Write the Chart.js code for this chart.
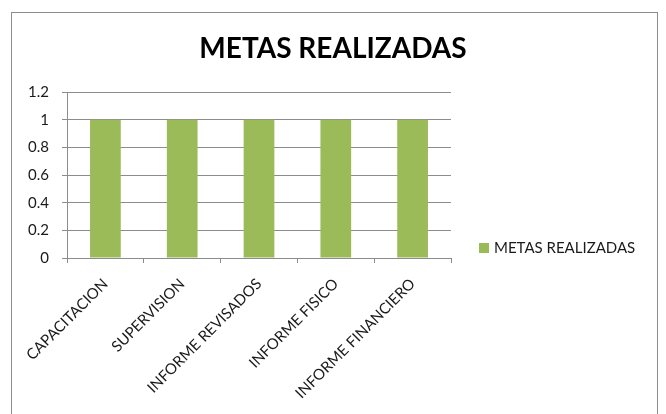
<!DOCTYPE html>
<html>
<head>
<meta charset="utf-8">
<script src="https://cdn.jsdelivr.net/npm/chart.js@4"></script>
<style>
  html, body { margin: 0; padding: 0; background: #fff; overflow: hidden; }
  #cadre { position: absolute; left: 11px; top: 12px; width: 645px; height: 430px; border: 1px solid #8c8c8c; }
  #zone { position: absolute; left: 0; top: 0; width: 666px; height: 414px; }
</style>
</head>
<body>
<div id="cadre"></div>
<div id="zone"><canvas id="chart1"></canvas></div>
<script>
// Données
const categories = ['CAPACITACION', 'SUPERVISION', 'INFORME REVISADOS', 'INFORME FISICO', 'INFORME FINANCIERO'];
const valeurs = [1, 1, 1, 1, 1];
const titre = 'METAS REALIZADAS';
const nomSerie = 'METAS REALIZADAS';

const police = 'Lato, "Open Sans", sans-serif';
const gris = '#8c8c8c';

// Légende dessinée à la main (à droite, comme dans Excel)
const legendePerso = {
  id: 'legendePerso',
  afterDraw(chart) {
    const ctx = chart.ctx;
    const ds = chart.data.datasets[0];
    ctx.save();
    ctx.fillStyle = ds.backgroundColor;
    ctx.fillRect(479, 243, 10, 10);
    ctx.fillStyle = '#1a1a1a';
    ctx.font = '15px ' + police;
    ctx.textBaseline = 'middle';
    ctx.fillText(ds.label, 494, 248);
    ctx.restore();
  }
};

new Chart(document.getElementById('chart1'), {
  type: 'bar',
  data: {
    labels: categories,
    datasets: [{
      label: nomSerie,
      data: valeurs,
      backgroundColor: '#9bbb59',
      categoryPercentage: 1,
      barPercentage: 0.4
    }]
  },
  options: {
    responsive: true,
    maintainAspectRatio: false,
    animation: false,
    layout: { padding: { top: 16, right: 0, left: 0, bottom: 0 } },
    plugins: {
      legend: { display: false },
      tooltip: { enabled: false },
      title: {
        display: true,
        text: titre,
        color: '#000',
        font: { family: police, size: 28, weight: 'bold', lineHeight: 1.2 },
        padding: { top: 16, bottom: 26.4 }
      }
    },
    scales: {
      x: {
        afterFit: s => { s.height = 156; },
        grid: { offset: true, drawOnChartArea: false, drawTicks: true, tickLength: 5, color: gris },
        border: { color: gris },
        ticks: {
          color: '#1a1a1a',
          font: { family: police, size: 15 },
          minRotation: 45, maxRotation: 45,
          padding: 12
        }
      },
      y: {
        min: 0, max: 1.2,
        afterFit: s => { s.width = 67; },
        grid: { color: gris, tickLength: 5 },
        border: { color: gris },
        ticks: {
          stepSize: 0.2,
          color: '#1a1a1a',
          font: { family: police, size: 15 },
          padding: 13,
          callback: v => String(+v.toFixed(1))
        }
      },
      // axe vide à droite : réserve la place de la légende
      marge: {
        type: 'linear',
        position: 'right',
        afterFit: s => { s.width = 215; },
        grid: { display: false, drawTicks: false },
        border: { display: false },
        ticks: { display: false }
      }
    }
  },
  plugins: [legendePerso]
});
</script>
</body>
</html>
